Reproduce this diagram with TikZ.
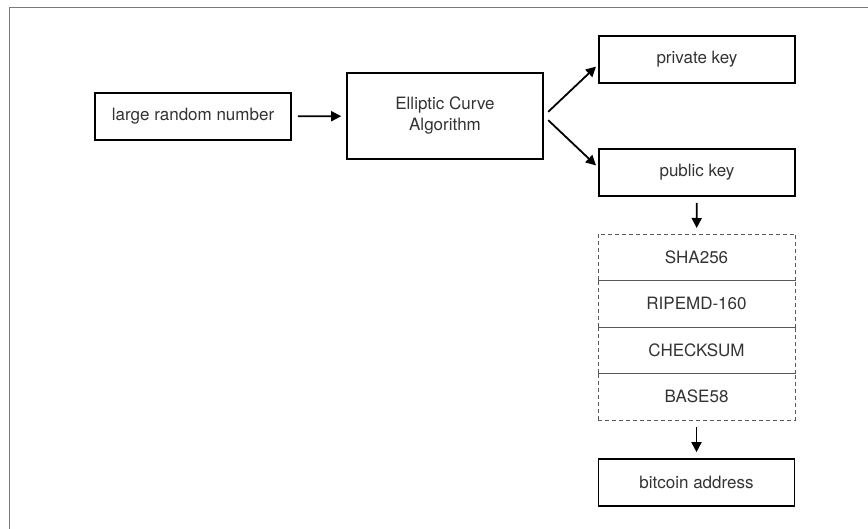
\documentclass[tikz,border=0pt]{standalone}
\usepackage{fontspec}
\setmainfont{TeX Gyre Heros}
\usepackage{xcolor}
\usetikzlibrary{arrows.meta,positioning,calc}
\definecolor{txtgray}{HTML}{333333}
\definecolor{framegray}{HTML}{7A7A7A}

\begin{document}
\begin{tikzpicture}[
  x=1pt, y=-1pt,
  font=\fontsize{17}{21}\selectfont,
  box/.style={draw, line width=1.6pt, minimum width=196pt, minimum height=47pt, inner sep=0pt, text=txtgray},
  stepcell/.style={draw=black!65, dash pattern=on 4pt off 3pt, line width=0.8pt, minimum width=197pt, minimum height=46.5pt, inner sep=0pt, outer sep=0pt, text=txtgray},
  arrow/.style={-{Triangle[length=10pt,width=10pt]}, line width=1.8pt}
]
\useasboundingbox (0,0) rectangle (868,529);

% Rahmen
\draw[framegray, line width=1pt] (9,529) -- (9,8) -- (868,8);

% links
\node[box] (rnd) at (193,116.5) {large random number};
\node[box, minimum height=86pt, align=center] (eca) at (445,116) {Elliptic Curve\\Algorithm};
\draw[arrow, shorten <=6pt, shorten >=5pt] (rnd) -- (eca);

% rechts oben
\node[box] (priv) at (697,59.5) {private key};
\node[box] (pub) at (697,172.5) {public key};
\draw[arrow, shorten <=6pt, shorten >=3pt] (eca.east) -- ([yshift=-5pt]priv.west);
\draw[arrow, shorten <=6pt, shorten >=3pt] (eca.east) -- ([yshift=5pt]pub.west);

% Hash-Schritte
\node[stepcell] (sha) at (696.5,257.25) {SHA256};
\node[stepcell, below=0pt of sha] (ripe) {RIPEMD-160};
\node[stepcell, below=0pt of ripe] (chk) {CHECKSUM};
\node[stepcell, below=0pt of chk] (b58) {BASE58};
\draw[arrow, shorten <=6pt, shorten >=6pt] (pub) -- (sha);

% Adresse
\node[box] (addr) at (696.5,482.5) {bitcoin address};
\draw[arrow, shorten <=7pt, shorten >=6pt] (b58) -- (addr);

\end{tikzpicture}
\end{document}
